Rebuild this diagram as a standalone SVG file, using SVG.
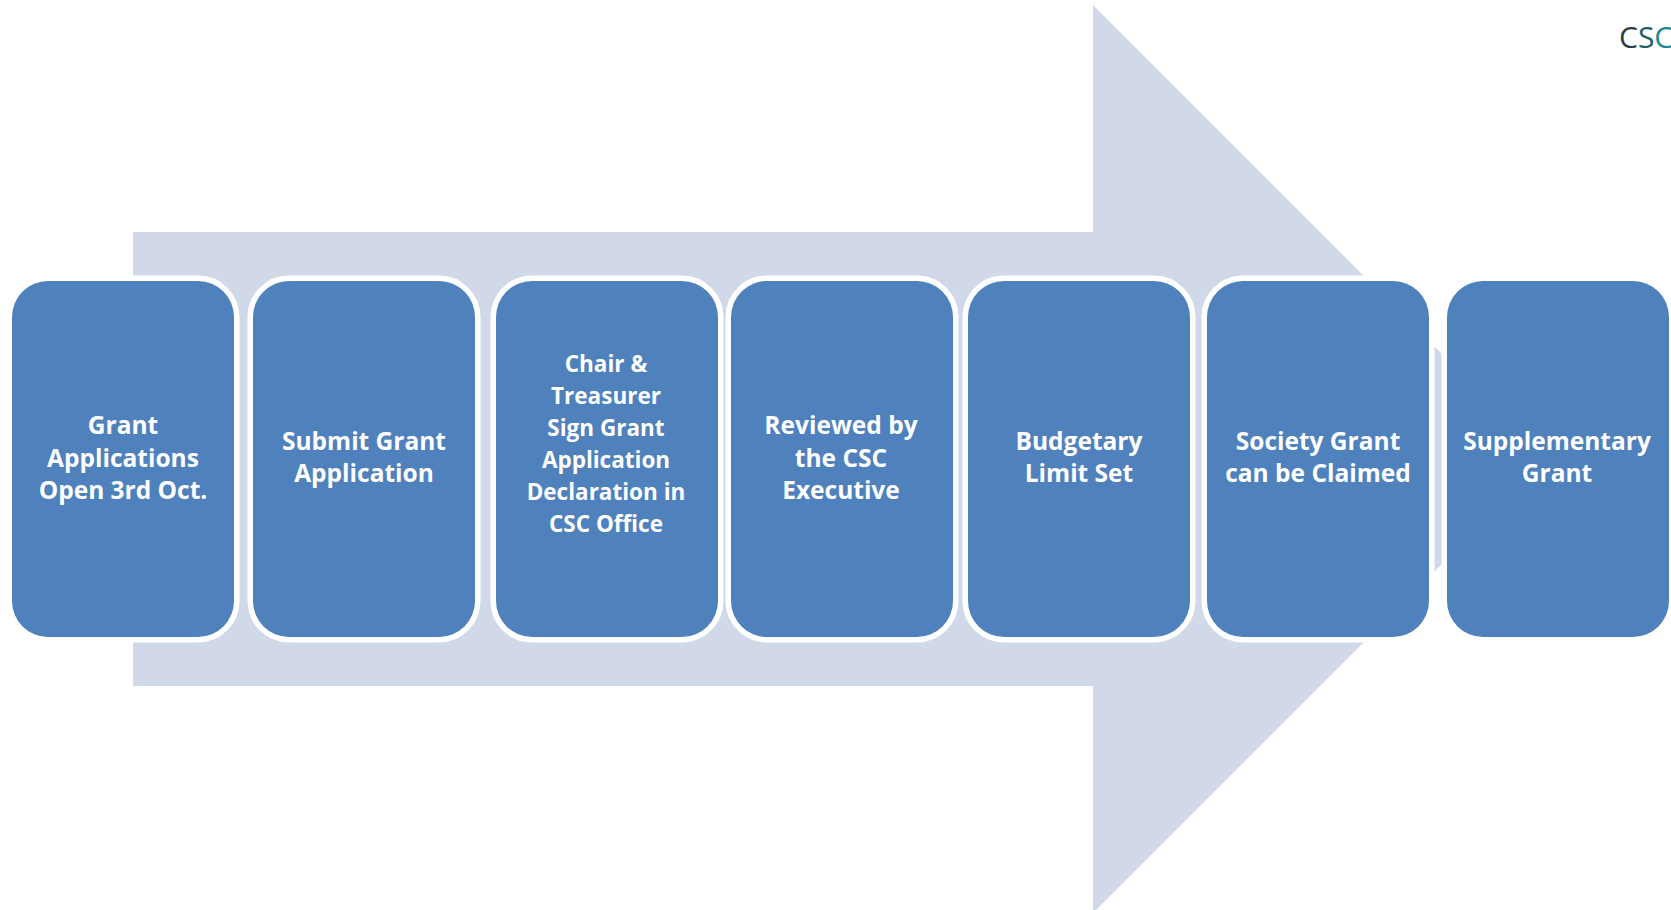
<svg xmlns="http://www.w3.org/2000/svg" width="1671" height="910" viewBox="0 0 1671 910">
  <style>
    .step rect { fill: #4f81bd; stroke: #ffffff; stroke-width: 11; paint-order: stroke; }
    .step text { font-family: "Open Sans", "Liberation Sans", sans-serif; font-weight: bold; font-size: 24.5px; fill: #ffffff; text-anchor: middle; }
    #step3 text { font-size: 22.5px; }
    .logo { font-family: "Open Sans", "Liberation Sans", sans-serif; font-size: 30px; }
  </style>
  <rect width="1671" height="910" fill="#ffffff"/>

  <!-- background block arrow -->
  <g id="connectors">
    <polygon points="133,232 1093,232 1093,5 1547,459 1093,913 1093,686 133,686" fill="#d1d9e8"/>
  </g>

  <!-- logo text, clipped by the right edge -->
  <text class="logo" x="1619" y="48"><tspan fill="#2c3d43">C</tspan><tspan fill="#1f5c66">S</tspan><tspan fill="#1b8995">C</tspan></text>

  <g id="step1" class="step">
    <rect x="12" y="281" width="222" height="356" rx="36"/>
    <text x="123" y="434">Grant</text>
    <text x="123" y="466.5">Applications</text>
    <text x="123" y="499">Open 3rd Oct.</text>
  </g>

  <g id="step2" class="step">
    <rect x="253" y="281" width="222" height="356" rx="36"/>
    <text x="364" y="450">Submit Grant</text>
    <text x="364" y="482">Application</text>
  </g>

  <g id="step3" class="step">
    <rect x="496" y="281" width="222" height="356" rx="36"/>
    <text x="606" y="372">Chair &amp;</text>
    <text x="606" y="404">Treasurer</text>
    <text x="606" y="436">Sign Grant</text>
    <text x="606" y="468">Application</text>
    <text x="606" y="500">Declaration in</text>
    <text x="606" y="532">CSC Office</text>
  </g>

  <g id="step4" class="step">
    <rect x="731" y="281" width="222" height="356" rx="36"/>
    <text x="841" y="434">Reviewed by</text>
    <text x="841" y="466.5">the CSC</text>
    <text x="841" y="499">Executive</text>
  </g>

  <g id="step5" class="step">
    <rect x="968" y="281" width="222" height="356" rx="36"/>
    <text x="1079" y="450">Budgetary</text>
    <text x="1079" y="482">Limit Set</text>
  </g>

  <g id="step6" class="step">
    <rect x="1207" y="281" width="222" height="356" rx="36"/>
    <text x="1318" y="450">Society Grant</text>
    <text x="1318" y="482">can be Claimed</text>
  </g>

  <g id="step7" class="step">
    <rect x="1447" y="281" width="222" height="356" rx="36"/>
    <text x="1557" y="450">Supplementary</text>
    <text x="1557" y="482">Grant</text>
  </g>
</svg>
